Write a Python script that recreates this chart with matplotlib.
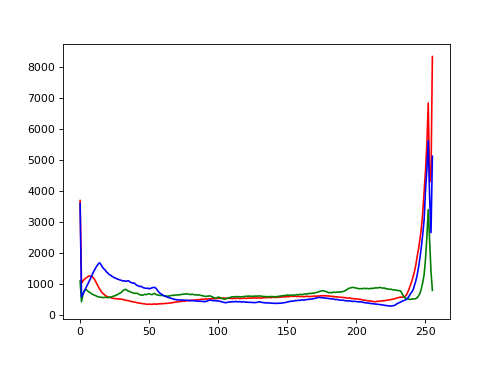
import matplotlib
matplotlib.use("Agg")
import matplotlib.pyplot as plt

# per-channel pixel counts for intensity 0..255
red = [
    3700, 1030, 1100, 1150, 1190, 1220, 1250, 1265, 1260, 1230, 1180, 1110, 1020, 930, 850, 780,
    720, 680, 640, 610, 590, 575, 565, 550, 540, 530, 535, 520, 525, 510, 515, 500,
    495, 480, 470, 465, 450, 440, 430, 420, 415, 400, 395, 385, 380, 370, 365, 360,
    350, 345, 355, 350, 345, 355, 360, 350, 355, 365, 360, 370, 365, 375, 380, 375,
    385, 390, 395, 400, 410, 420, 430, 425, 440, 435, 450, 455, 445, 465, 470, 460,
    480, 475, 485, 490, 480, 500, 495, 505, 510, 520, 505, 525, 515, 530, 520, 525,
    535, 520, 540, 530, 545, 535, 550, 540, 555, 545, 540, 550, 535, 545, 530, 540,
    545, 535, 550, 540, 530, 545, 540, 550, 535, 545, 555, 540, 550, 560, 545, 555,
    550, 560, 550, 545, 560, 555, 570, 560, 565, 575, 560, 570, 580, 565, 575, 570,
    585, 575, 590, 580, 595, 585, 600, 590, 605, 615, 600, 614, 605, 595, 610, 600,
    595, 605, 590, 600, 610, 600, 595, 605, 600, 610, 615, 605, 620, 610, 625, 615,
    630, 620, 625, 615, 620, 605, 610, 595, 600, 585, 590, 575, 580, 570, 575, 560,
    565, 550, 545, 555, 540, 530, 535, 520, 525, 515, 505, 510, 495, 480, 485, 470,
    465, 455, 460, 445, 440, 430, 435, 440, 450, 445, 460, 455, 470, 465, 480, 485,
    490, 500, 510, 520, 530, 545, 560, 570, 580, 575, 585, 590, 640, 720, 830, 950,
    1080, 1230, 1400, 1620, 1900, 2150, 2450, 2800, 3300, 3950, 4650, 5500, 6850, 4300, 4500, 8350,
]

green = [
    1100, 430, 650, 780, 830, 800, 760, 730, 700, 670, 650, 630, 610, 590, 580, 575,
    570, 565, 575, 570, 560, 575, 580, 590, 610, 620, 640, 660, 690, 710, 740, 790,
    820, 830, 800, 770, 760, 740, 720, 710, 700, 705, 690, 660, 650, 640, 655, 670,
    660, 680, 690, 670, 660, 680, 700, 660, 650, 640, 630, 640, 630, 620, 615, 610,
    615, 620, 630, 640, 635, 650, 645, 660, 650, 665, 670, 680, 675, 690, 680, 670,
    660, 675, 665, 650, 660, 645, 650, 640, 630, 620, 610, 600, 610, 615, 620, 600,
    580, 560, 540, 560, 580, 570, 550, 530, 520, 517, 530, 545, 560, 575, 590, 585,
    595, 590, 600, 592, 585, 595, 592, 600, 610, 605, 615, 610, 600, 612, 605, 615,
    610, 614, 620, 610, 605, 600, 595, 600, 590, 595, 600, 592, 598, 590, 592, 600,
    605, 615, 620, 630, 625, 640, 646, 635, 645, 640, 646, 650, 645, 660, 655, 665,
    670, 660, 675, 680, 690, 685, 700, 695, 710, 700, 720, 730, 740, 760, 770, 786,
    786, 775, 760, 740, 722, 730, 720, 735, 740, 730, 745, 740, 750, 743, 760, 770,
    790, 820, 850, 870, 880, 894, 890, 880, 870, 860, 850, 855, 850, 860, 865, 855,
    860, 850, 855, 865, 861, 870, 880, 875, 885, 894, 880, 870, 875, 860, 850, 840,
    830, 835, 820, 815, 810, 800, 795, 786, 780, 700, 620, 560, 540, 525, 510, 505,
    515, 520, 525, 530, 560, 620, 700, 850, 1050, 1300, 1800, 2500, 3400, 2400, 1400, 800,
]

blue = [
    3600, 590, 680, 770, 860, 950, 1040, 1130, 1230, 1330, 1420, 1500, 1580, 1640, 1690, 1640,
    1560, 1500, 1460, 1400, 1360, 1310, 1290, 1250, 1230, 1200, 1190, 1160, 1150, 1130, 1120, 1100,
    1110, 1090, 1100, 1110, 1070, 1050, 1030, 1040, 1000, 960, 950, 920, 930, 900, 880, 870,
    860, 870, 850, 860, 880, 890, 895, 860, 800, 740, 700, 670, 640, 620, 600, 580,
    570, 550, 540, 525, 510, 505, 495, 490, 485, 490, 480, 485, 475, 480, 470, 475,
    465, 470, 460, 465, 450, 455, 445, 450, 440, 445, 430, 440, 455, 470, 485, 475,
    470, 460, 465, 455, 460, 445, 440, 420, 410, 400, 405, 415, 420, 430, 425, 435,
    430, 440, 425, 435, 430, 420, 430, 425, 415, 420, 410, 415, 405, 410, 400, 405,
    410, 420, 430, 415, 405, 400, 395, 390, 400, 385, 390, 380, 385, 375, 380, 378,
    385, 380, 390, 395, 400, 410, 420, 430, 440, 452, 445, 460, 470, 465, 480, 475,
    485, 490, 480, 495, 500, 505, 507, 515, 520, 530, 540, 550, 560, 572, 565, 560,
    555, 560, 540, 545, 535, 530, 520, 525, 510, 500, 505, 490, 485, 480, 485, 470,
    465, 460, 455, 460, 450, 445, 440, 445, 435, 430, 425, 430, 420, 410, 400, 395,
    390, 385, 375, 370, 365, 360, 355, 350, 345, 340, 335, 325, 320, 310, 305, 300,
    295, 290, 300, 305, 320, 355, 380, 400, 420, 445, 465, 480, 500, 540, 600, 680,
    740, 810, 950, 1100, 1300, 1550, 1850, 2200, 2600, 3070, 4000, 4700, 5630, 3800, 2660, 5130,
]

fig = plt.figure(figsize=(6.4, 4.672), dpi=78.125)
fig.subplots_adjust(left=0.125, right=0.9, top=0.879, bottom=0.125)
ax = fig.add_subplot(111)

for hist, col in ((red, "r"), (green, "g"), (blue, "b")):
    ax.plot(hist, color=col)

ax.set_xlim(-12.75, 267.75)
ax.set_ylim(-139, 8749)

fig.savefig("out.png", dpi=78.125)
